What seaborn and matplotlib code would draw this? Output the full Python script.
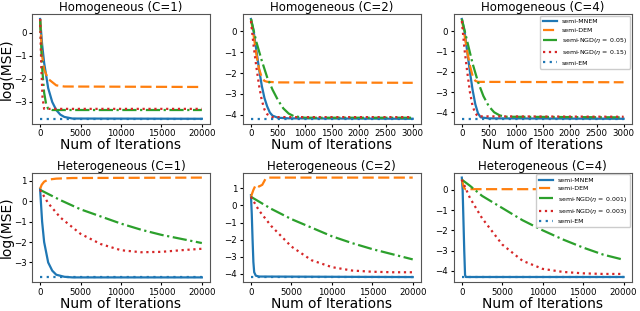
import numpy as np
import pandas as pd
import matplotlib
matplotlib.use("Agg")
import matplotlib.pyplot as plt
from matplotlib.ticker import MultipleLocator
import seaborn as sns

# ---- data ----
titles = ["Homogeneous (C=1)", "Homogeneous (C=2)", "Homogeneous (C=4)",
          "Heterogeneous (C=1)", "Heterogeneous (C=2)", "Heterogeneous (C=4)"]

# Homogeneous C=1
h1_mnem_x = [0, 250, 500, 1000, 1500, 2000, 2500, 3000, 4000, 20000]
h1_mnem_y = [0.6, -0.5, -1.3, -2.4, -3.0, -3.35, -3.55, -3.65, -3.72, -3.73]
h1_dem_x = [0, 250, 500, 1000, 2000, 3000, 20000]
h1_dem_y = [0.6, -1.0, -1.6, -2.0, -2.28, -2.33, -2.35]
h1_ngd1_x = [0, 250, 500, 750, 1000, 1500, 20000]
h1_ngd1_y = [0.6, -1.5, -2.6, -3.1, -3.3, -3.35, -3.35]
h1_ngd2_x = [0, 150, 300, 500, 20000]
h1_ngd2_y = [0.6, -1.5, -2.8, -3.3, -3.3]
h1_em = -3.73

# Homogeneous C=2
h2_mnem_x = [0, 50, 100, 150, 200, 250, 300, 350, 400, 500, 700, 3000]
h2_mnem_y = [0.6, 0.0, -0.9, -1.8, -2.6, -3.2, -3.6, -3.9, -4.05, -4.15, -4.18, -4.2]
h2_dem_x = [0, 50, 100, 150, 200, 250, 300, 500, 3000]
h2_dem_y = [0.6, -0.2, -1.1, -1.8, -2.2, -2.38, -2.42, -2.45, -2.47]
h2_ngd1_x = [0, 100, 200, 300, 400, 500, 600, 700, 800, 1000, 3000]
h2_ngd1_y = [0.6, -0.5, -1.4, -2.2, -2.8, -3.3, -3.7, -3.95, -4.08, -4.15, -4.15]
h2_ngd2_x = [0, 50, 100, 150, 200, 250, 300, 400, 3000]
h2_ngd2_y = [0.5, -0.7, -1.7, -2.6, -3.3, -3.75, -3.98, -4.12, -4.12]
h2_em = -4.2

# Homogeneous C=4
h4_mnem_x = [0, 50, 100, 150, 200, 250, 300, 350, 500, 3000]
h4_mnem_y = [0.6, 0.0, -1.0, -2.0, -2.9, -3.6, -4.05, -4.25, -4.3, -4.32]
h4_dem_x = [0, 50, 100, 150, 200, 250, 300, 3000]
h4_dem_y = [0.6, -0.2, -1.0, -1.7, -2.2, -2.45, -2.5, -2.52]
h4_ngd1_x = [0, 100, 200, 300, 400, 500, 600, 700, 800, 3000]
h4_ngd1_y = [0.6, -0.5, -1.6, -2.5, -3.2, -3.7, -4.0, -4.15, -4.22, -4.25]
h4_ngd2_x = [0, 50, 100, 150, 200, 250, 300, 3000]
h4_ngd2_y = [0.5, -0.9, -2.0, -3.0, -3.7, -4.05, -4.2, -4.22]
h4_em = -4.32

# Heterogeneous C=1
e1_mnem_x = [0, 250, 500, 1000, 1500, 2000, 3000, 4000, 20000]
e1_mnem_y = [0.6, -1.0, -2.0, -3.0, -3.4, -3.6, -3.7, -3.73, -3.73]
e1_dem_x = [0, 200, 500, 1000, 2000, 4000, 20000]
e1_dem_y = [0.6, 0.8, 0.95, 1.05, 1.1, 1.13, 1.15]
e1_ngd1_x = [0, 2500, 5000, 7500, 10000, 12500, 15000, 17500, 20000]
e1_ngd1_y = [0.55, 0.05, -0.4, -0.75, -1.1, -1.4, -1.65, -1.85, -2.05]
e1_ngd2_x = [0, 1000, 2500, 5000, 7500, 10000, 12500, 15000, 17500, 20000]
e1_ngd2_y = [0.55, -0.1, -0.8, -1.6, -2.1, -2.4, -2.5, -2.48, -2.4, -2.33]
e1_em = -3.73

# Heterogeneous C=2
e2_mnem_x = [0, 100, 200, 300, 400, 600, 1000, 20000]
e2_mnem_y = [0.6, -0.5, -2.0, -3.3, -3.9, -4.1, -4.15, -4.18]
e2_dem_x = [0, 300, 600, 1000, 1400, 1800, 2200, 20000]
e2_dem_y = [0.5, 0.9, 1.2, 1.1, 1.2, 1.55, 1.62, 1.62]
e2_ngd1_x = [0, 2500, 5000, 7500, 10000, 12500, 15000, 17500, 20000]
e2_ngd1_y = [0.5, -0.2, -0.8, -1.3, -1.8, -2.2, -2.55, -2.85, -3.15]
e2_ngd2_x = [0, 1000, 2500, 5000, 7500, 10000, 12500, 15000, 17500, 20000]
e2_ngd2_y = [0.5, -0.3, -1.2, -2.4, -3.2, -3.6, -3.8, -3.87, -3.9, -3.9]
e2_em = -4.2

# Heterogeneous C=4
e4_mnem_x = [0, 100, 200, 300, 400, 500, 20000]
e4_mnem_y = [0.6, 0.0, -1.5, -3.0, -4.2, -4.3, -4.3]
e4_dem_x = [0, 250, 500, 1000, 20000]
e4_dem_y = [0.5, 0.1, 0.02, 0.03, 0.03]
e4_ngd1_x = [0, 1000, 2500, 5000, 7500, 10000, 12500, 15000, 17500, 20000]
e4_ngd1_y = [0.5, 0.2, -0.3, -0.9, -1.5, -2.0, -2.45, -2.85, -3.2, -3.45]
e4_ngd2_x = [0, 1000, 2500, 5000, 7500, 10000, 12500, 15000, 17500, 20000]
e4_ngd2_y = [0.5, -0.4, -1.4, -2.7, -3.5, -3.9, -4.05, -4.12, -4.15, -4.15]
e4_em = -4.32

hom_eta = ["0.05", "0.15"]
het_eta = ["0.001", "0.003"]

panels = [
    (h1_mnem_x, h1_mnem_y, h1_dem_x, h1_dem_y, h1_ngd1_x, h1_ngd1_y, h1_ngd2_x, h1_ngd2_y, h1_em, 20000, hom_eta),
    (h2_mnem_x, h2_mnem_y, h2_dem_x, h2_dem_y, h2_ngd1_x, h2_ngd1_y, h2_ngd2_x, h2_ngd2_y, h2_em, 3000, hom_eta),
    (h4_mnem_x, h4_mnem_y, h4_dem_x, h4_dem_y, h4_ngd1_x, h4_ngd1_y, h4_ngd2_x, h4_ngd2_y, h4_em, 3000, hom_eta),
    (e1_mnem_x, e1_mnem_y, e1_dem_x, e1_dem_y, e1_ngd1_x, e1_ngd1_y, e1_ngd2_x, e1_ngd2_y, e1_em, 20000, het_eta),
    (e2_mnem_x, e2_mnem_y, e2_dem_x, e2_dem_y, e2_ngd1_x, e2_ngd1_y, e2_ngd2_x, e2_ngd2_y, e2_em, 20000, het_eta),
    (e4_mnem_x, e4_mnem_y, e4_dem_x, e4_dem_y, e4_ngd1_x, e4_ngd1_y, e4_ngd2_x, e4_ngd2_y, e4_em, 20000, het_eta),
]

pal = sns.color_palette("tab10")
fig, axes = plt.subplots(2, 3, figsize=(6.4, 3.11), dpi=100)
plt.subplots_adjust(left=0.05, right=0.987, top=0.955, bottom=0.092, wspace=0.185, hspace=0.445)

for i, (ax, p) in enumerate(zip(axes.flat, panels)):
    mx, my, dx, dy, g1x, g1y, g2x, g2y, em, xmax, eta = p
    lw = 1.6
    sns.lineplot(x=mx, y=my, ax=ax, color=pal[0], lw=lw, label="semi-MNEM")
    sns.lineplot(x=dx, y=dy, ax=ax, color=pal[1], lw=lw, linestyle=(0, (5, 2)), label="semi-DEM")
    sns.lineplot(x=g1x, y=g1y, ax=ax, color=pal[2], lw=lw, linestyle="-.",
                 label="semi-NGD($\\eta$ = %s)" % eta[0])
    sns.lineplot(x=g2x, y=g2y, ax=ax, color=pal[3], lw=lw, linestyle=":",
                 label="semi-NGD($\\eta$ = %s)" % eta[1])
    sns.lineplot(x=[0, xmax], y=[em, em], ax=ax, color=pal[0], lw=lw, linestyle=(0, (1, 2)),
                 label="semi-EM")
    ax.set_title(titles[i], fontsize=8.5, pad=2)
    ax.set_xlabel("Num of Iterations", fontsize=10, labelpad=0)
    ax.tick_params(labelsize=6.2, length=2.5, pad=1.5)
    ax.xaxis.set_major_locator(MultipleLocator(5000 if xmax == 20000 else 500))
    ax.yaxis.set_major_locator(MultipleLocator(1))
    if i % 3 == 0:
        ax.set_ylabel("log(MSE)", fontsize=10)
        ax.yaxis.set_label_coords(-0.105, 0.5)
    for s in ax.spines.values():
        s.set_color("#555555")
    if i % 3 == 2:
        ax.legend(loc="upper right", fontsize=4.5, handlelength=2.2, labelspacing=0.5,
                  borderpad=0.5, borderaxespad=0.3, framealpha=1)
    else:
        ax.get_legend().remove()

fig.savefig("out.png", dpi=100)
